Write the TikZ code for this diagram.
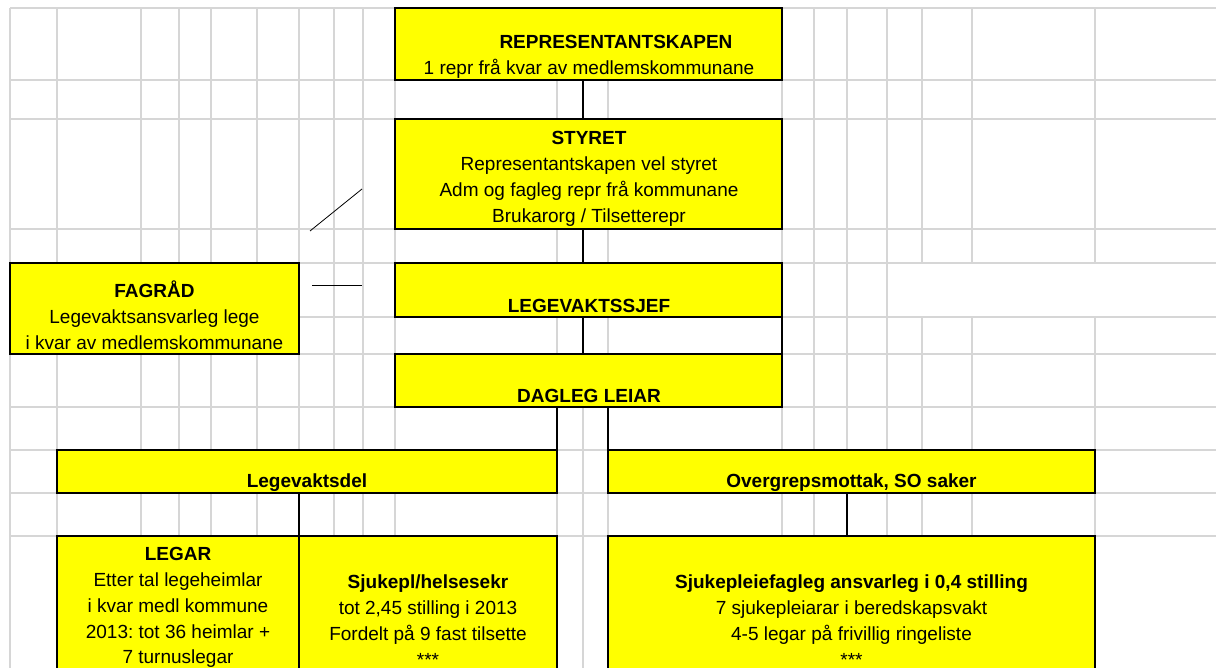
\documentclass[tikz,border=0pt]{standalone}
\usepackage{fontspec}
\setmainfont{Liberation Sans}
\frenchspacing
\definecolor{gridgray}{RGB}{214,214,214}
\definecolor{boxyellow}{RGB}{255,255,0}
\begin{document}
\begin{tikzpicture}[x=1pt,y=-1pt,
  gridline/.style={draw=gridgray, line width=1.2pt},
  box/.style={draw=black, fill=boxyellow, line width=2pt, inner sep=0pt, outer sep=0pt},
  txt/.style={inner sep=0pt, anchor=north, align=center, font=\fontsize{19}{25.8}\selectfont},
  conn/.style={draw=black, line width=2pt},
  thinline/.style={draw=black, line width=0.8pt}]
\useasboundingbox (0,0) rectangle (1216,668);
\clip (0,0) rectangle (1216,668);
% spreadsheet grid
\foreach \y in {8,80,119,229,263,317,354,407,450,493,536}
  \draw[gridline] (10,\y) -- (1216,\y);
\foreach \x in {10,57,141,179,211,257,299,334,363,395,557,583,608,782,814,847,887}
  \draw[gridline] (\x,8) -- (\x,668);
\foreach \x in {922,972,1095} {
  \draw[gridline] (\x,8) -- (\x,263);
  \draw[gridline] (\x,317) -- (\x,668);
}
% boxes
\node[box, minimum width=387pt, minimum height=72pt] (rep) at (588.5,44) {};
\node[box, minimum width=387pt, minimum height=110pt] (sty) at (588.5,174) {};
\node[box, minimum width=387pt, minimum height=54pt] (ls) at (588.5,290) {};
\node[box, minimum width=387pt, minimum height=53pt] (dl) at (588.5,380.5) {};
\node[box, minimum width=289pt, minimum height=91pt] (fag) at (154.5,308.5) {};
\node[box, minimum width=500pt, minimum height=43pt] (lvd) at (307,471.5) {};
\node[box, minimum width=487pt, minimum height=43pt] (ogm) at (851.5,471.5) {};
\node[box, minimum width=242pt, minimum height=164pt] (leg) at (178,618) {};
\node[box, minimum width=258pt, minimum height=164pt] (sjp) at (428,618) {};
\node[box, minimum width=487pt, minimum height=164pt] (sjf) at (851.5,618) {};
% connectors
\coordinate (c583) at (583,0);
\coordinate (c847) at (847,0);
\draw[conn] (rep.south -| c583) -- (sty.north -| c583);
\draw[conn] (sty.south -| c583) -- (ls.north -| c583);
\draw[conn] (ls.south -| c583) -- (dl.north -| c583);
\draw[conn] (ls.south east) -- (dl.north east);
\draw[conn] (dl.south -| lvd.east) -- (lvd.north east);
\draw[conn] (dl.south -| ogm.west) -- (ogm.north west);
\draw[conn] (lvd.south -| leg.east) -- (leg.north east);
\draw[conn] (ogm.south -| c847) -- (sjf.north -| c847);
% thin free lines
\coordinate (d1) at (362,189);
\coordinate (d2) at (310,231);
\coordinate (h1) at (312,285);
\coordinate (h2) at (362,285);
\draw[thinline] (d1) -- (d2);
\draw[thinline] (h1) -- (h2);
% texts
\node[txt] (repT) at (589,30.5) {\rule{0pt}{18pt}\hspace*{54pt}\textbf{REPRESENTANTSKAPEN}\\1 repr frå kvar av medlemskommunane};
\node[txt] (styT) at (589,126.5) {\rule{0pt}{18pt}\textbf{STYRET}\\Representantskapen vel styret\\Adm og fagleg repr frå kommunane\\Brukarorg / Tilsetterepr};
\node[txt] (lsT) at (589,294.5) {\rule{0pt}{18pt}\textbf{LEGEVAKTSSJEF}};
\node[txt] (dlT) at (589,384.5) {\rule{0pt}{18pt}\textbf{DAGLEG LEIAR}};
\node[txt] (fagT) at (154.5,279.5) {\rule{0pt}{18pt}\textbf{FAGRÅD}\\Legevaktsansvarleg lege\\i kvar av medlemskommunane};
\node[txt] (lvdT) at (307,469.5) {\rule{0pt}{18pt}\textbf{Legevaktsdel}};
\node[txt] (ogmT) at (851.5,469.5) {\rule{0pt}{18pt}\textbf{Overgrepsmottak, SO saker}};
\node[txt] (legT) at (178,542.5) {\rule{0pt}{18pt}\textbf{LEGAR}\\Etter tal legeheimlar\\i kvar medl kommune\\2013: tot 36 heimlar +\\7 turnuslegar};
\node[txt] (sjpT) at (428,570.5) {\rule{0pt}{18pt}\textbf{Sjukepl/helsesekr}\\tot 2,45 stilling i 2013\\Fordelt på 9 fast tilsette\\***};
\node[txt] (sjfT) at (851.5,570.5) {\rule{0pt}{18pt}\textbf{Sjukepleiefagleg ansvarleg i 0,4 stilling}\\7 sjukepleiarar i beredskapsvakt\\4-5 legar på frivillig ringeliste\\***};
\end{tikzpicture}
\end{document}
